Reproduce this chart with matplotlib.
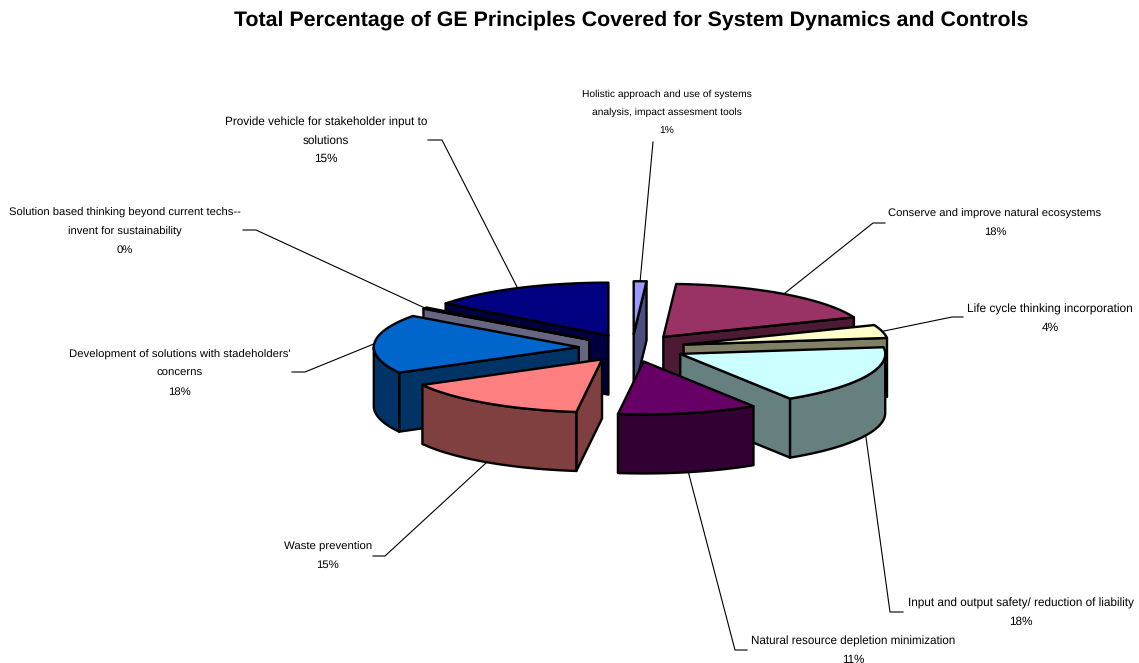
import numpy as np
import matplotlib
matplotlib.use('Agg')
import matplotlib.pyplot as plt
from matplotlib.transforms import Bbox

plt.rcParams['font.family'] = ['Liberation Sans', 'DejaVu Sans']
plt.rcParams['text.hinting'] = 'no_hinting'

# slices, clockwise from 12 o'clock
labels = ['Holistic approach and use of systems\nanalysis, impact assesment tools',
          'Conserve and improve natural ecosystems',
          'Life cycle thinking incorporation',
          'Input and output safety/ reduction of liability',
          'Natural resource depletion minimization',
          'Waste prevention',
          "Development of solutions with stadeholders'\nconcerns",
          'Solution based thinking beyond current techs--\ninvent for sustainability',
          'Provide vehicle for stakeholder input to\nsolutions']
values = [1, 18, 4, 18, 11, 15, 18, 0.4, 14.6]
top_colors = ['#9999FF', '#993366', '#FFFFCC', '#CCFFFF', '#660066',
              '#FF8080', '#0066CC', '#CCCCFF', '#000080']
side_colors = ['#4D4D80', '#4D1A33', '#808066', '#668080', '#330033',
               '#804040', '#003366', '#666680', '#000040']

# label centre, font size, and leader stub (text end, elbow)
label_pos = [(667, 94), (995, 214), (1050, 309), (1021, 603), (853, 641),
             (328, 547), (180, 355), (125, 213), (326, 122)]
label_size = [7.4, 8.1, 8.6, 8.5, 8.4, 8.2, 8.2, 8.1, 8.5]
stubs = [[(653, 142), (653, 142)], [(885, 223), (873, 223)], [(963, 317), (952, 317)],
         [(903, 612), (890, 612)], [(747, 650), (735, 650)], [(373, 556), (385, 556)],
         [(292, 372), (305, 372)], [(243, 230), (256, 230)], [(428, 140), (442, 140)]]
draw_order = [8, 0, 1, 7, 2, 6, 3, 4, 5]

CX, CY = 632, 348
RX, RY = 205, 53
DEPTH = 59
EXPLODE = 0.26
LW = 1.7

fig = plt.figure(figsize=(11.39, 6.63), dpi=100)
ax = fig.add_axes([0, 0, 1, 1])
ax.set_xlim(0, 1139)
ax.set_ylim(663, 0)
ax.axis('off')

edges = np.cumsum([0] + values) / sum(values) * 360


def rim(ox, oy, a):
    a = np.radians(a)
    return ox + RX * np.sin(a), oy - RY * np.cos(a)


def apex_of(i):
    mid = np.radians((edges[i] + edges[i + 1]) / 2)
    return CX + EXPLODE * RX * np.sin(mid), CY - EXPLODE * RY * np.cos(mid)


for z, i in enumerate(draw_order):
    a1, a2 = edges[i], edges[i + 1]
    ox, oy = apex_of(i)
    common = dict(edgecolor='black', linewidth=LW, joinstyle='round', zorder=3 + z)

    # straight walls that face the viewer
    for a, normal in [(a1, a1 - 90), (a2, a2 + 90)]:
        if np.cos(np.radians(normal)) < -1e-6:
            x, y = rim(ox, oy, a)
            ax.fill([ox, x, x, ox], [oy, y, y + DEPTH, oy + DEPTH],
                    facecolor=side_colors[i], **common)

    # curved wall, front half only
    lo, hi = max(a1, 90), min(a2, 270)
    if hi > lo:
        t = np.linspace(lo, hi, 60)
        x, y = rim(ox, oy, t)
        ax.fill(np.r_[x, x[::-1]], np.r_[y, y[::-1] + DEPTH],
                facecolor=side_colors[i], **common)

    # top face
    t = np.linspace(a1, a2, 80)
    x, y = rim(ox, oy, t)
    ax.fill(np.r_[ox, x], np.r_[oy, y], facecolor=top_colors[i], **common)

# labels and leaders
for i, text in enumerate(labels):
    lx, ly = label_pos[i]
    for n, line in enumerate((text + '\n' + f'{values[i]:.0f}%').split('\n')):
        t = ax.text(lx, ly + n * 18.5, line, ha='center', va='center',
                    fontsize=label_size[i], color='black', zorder=30)
        if i == 7:
            t.set_clip_on(True)
            t.set_clip_box(Bbox([[8, 0], [1139, 663]]))

    mid = (edges[i] + edges[i + 1]) / 2
    ex, ey = rim(*apex_of(i), mid)
    if 90 < mid < 270:
        ey += DEPTH
    stub = stubs[i]
    ax.plot([stub[0][0], stub[1][0], ex], [stub[0][1], stub[1][1], ey],
            color='black', lw=0.8, zorder=2)

ax.text(631, 20, 'Total Percentage of GE Principles Covered for System Dynamics and Controls',
        ha='center', va='center', fontsize=15.4, fontweight='bold', color='black')

fig.savefig('out.png', dpi=100)
